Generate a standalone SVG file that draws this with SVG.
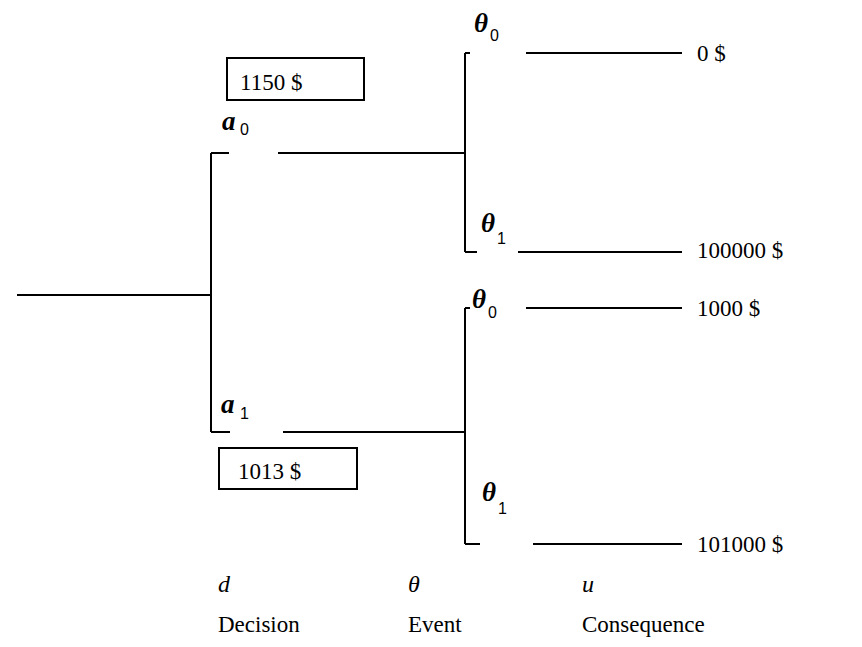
<svg xmlns="http://www.w3.org/2000/svg" width="862" height="647" viewBox="0 0 862 647">
<style>
.ln{stroke:#000;stroke-width:2;fill:none}
.t{font-family:"Liberation Serif","Times New Roman",serif;font-size:23px;fill:#000}
.it{font-family:"Liberation Serif","Times New Roman",serif;font-size:24px;font-style:italic;fill:#000}
.sym{font-family:"Liberation Serif","Times New Roman",serif;font-size:27px;font-style:italic;font-weight:bold;fill:#000}
.sub{font-family:"Liberation Sans",Arial,sans-serif;font-size:16px;fill:#000}
.box{fill:#fff;stroke:#000;stroke-width:2}
</style>
<rect width="862" height="647" fill="#fff"/>
<g id="connectors">
<path class="ln" d="M17,295 H211"/>
<path class="ln" d="M211,153 V432"/>
<path class="ln" d="M211,153 H229 M278,153 H465"/>
<path class="ln" d="M211,432 H230 M283,432 H465"/>
<path class="ln" d="M465,53 V252"/>
<path class="ln" d="M465,53 H470 M526,53 H682"/>
<path class="ln" d="M465,252 H477 M518,252 H682"/>
<path class="ln" d="M465,308 V544"/>
<path class="ln" d="M465,308 H470 M526,308 H682"/>
<path class="ln" d="M465,544 H480 M533,544 H682"/>
</g>
<g id="value-a0">
<rect class="box" x="227" y="58" width="137" height="42"/>
<text class="t" x="240" y="90">1150 $</text>
</g>
<g id="value-a1">
<rect class="box" x="219" y="448" width="138" height="41"/>
<text class="t" x="238" y="479">1013 $</text>
</g>
<g id="node-a0">
<text class="sym" x="222" y="130">a</text><text class="sub" x="240" y="135">0</text>
</g>
<g id="node-a1">
<text class="sym" x="221" y="413">a</text><text class="sub" x="240" y="419">1</text>
</g>
<g id="node-theta0-top">
<text class="sym" x="474" y="32">θ</text><text class="sub" x="490" y="41">0</text>
</g>
<g id="node-theta1-top">
<text class="sym" x="481" y="232">θ</text><text class="sub" x="497" y="244">1</text>
</g>
<g id="node-theta0-bottom">
<text class="sym" x="472" y="308">θ</text><text class="sub" x="488" y="318">0</text>
</g>
<g id="node-theta1-bottom">
<text class="sym" x="482" y="501">θ</text><text class="sub" x="498" y="514">1</text>
</g>
<g id="outcomes">
<text class="t" x="697" y="61">0 $</text>
<text class="t" x="697" y="258">100000 $</text>
<text class="t" x="697" y="316">1000 $</text>
<text class="t" x="697" y="552">101000 $</text>
</g>
<g id="legend">
<text class="it" x="218" y="592">d</text>
<text class="it" x="408" y="592">θ</text>
<text class="it" x="582" y="592">u</text>
<text class="t" x="218" y="632">Decision</text>
<text class="t" x="408" y="632">Event</text>
<text class="t" x="582" y="632">Consequence</text>
</g>
</svg>
